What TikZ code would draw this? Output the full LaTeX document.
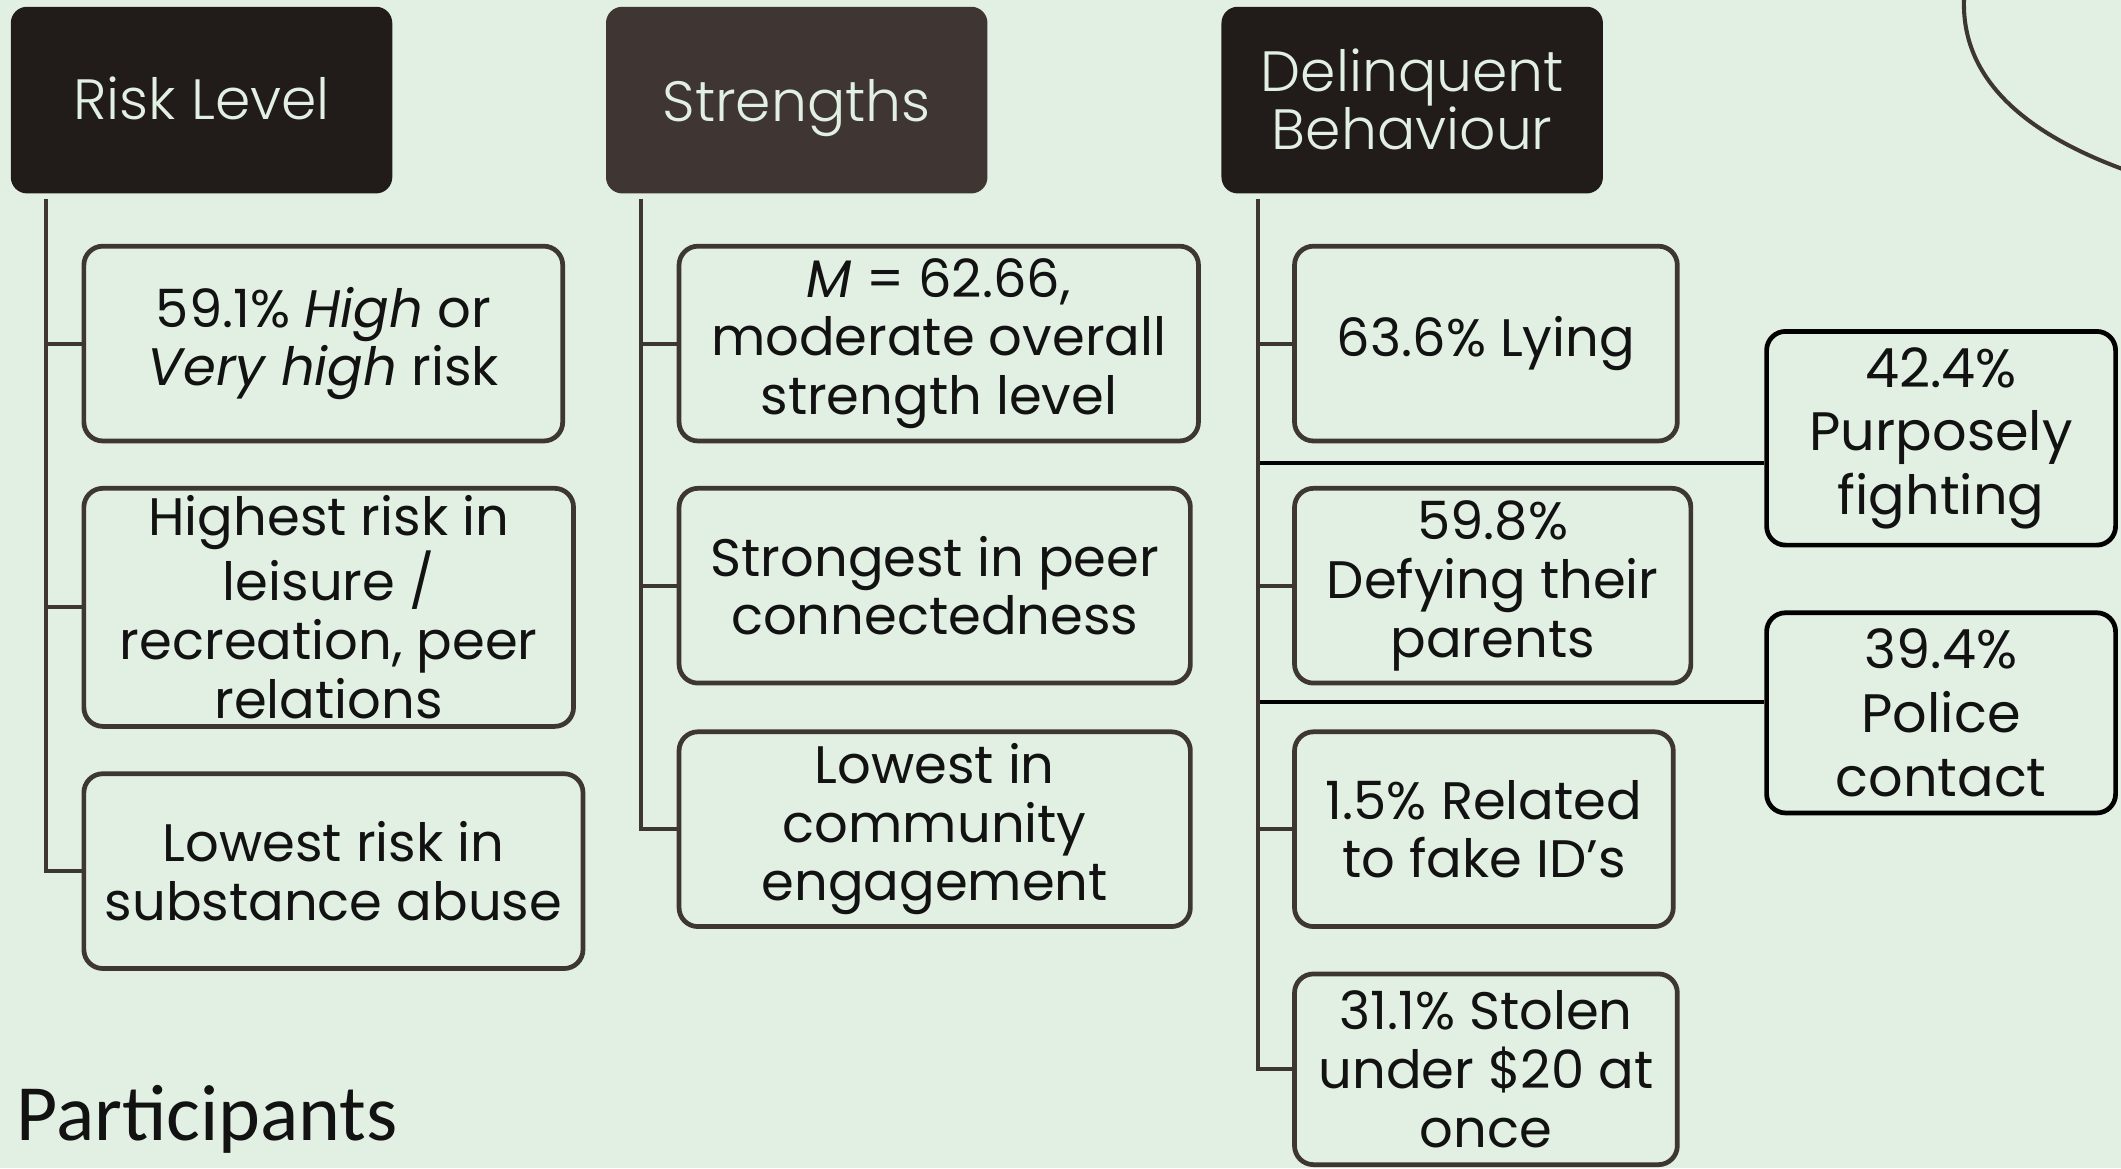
\documentclass[tikz,border=0pt]{standalone}
\usepackage{fontspec}
\setmainfont{Poppins}
\newfontfamily\hlight{Poppins Light}
\newfontfamily\calib{Carlito}
\definecolor{bg}{RGB}{226,240,227}
\definecolor{hdark}{RGB}{33,27,26}
\definecolor{hmid}{RGB}{63,54,51}
\definecolor{edge}{RGB}{62,54,51}
\definecolor{htext}{RGB}{226,240,227}
\definecolor{ink}{RGB}{18,18,18}
\begin{document}
\begin{tikzpicture}[x=1pt,y=-1pt,
  hdr/.style={rounded corners=12pt, minimum width=282pt, minimum height=138pt, text=htext, align=center, font=\hlight\fontsize{42}{43}\selectfont, inner sep=0pt},
  leaf/.style={draw=edge, line width=3.5pt, rounded corners=14pt, fill=bg, align=center, font=\fontsize{39}{43.5}\selectfont, inner sep=0pt, text=ink},
  side/.style={leaf, draw=black, font=\fontsize{40}{47}\selectfont},
  wire/.style={draw=edge, line width=3pt},
  bwire/.style={draw=black, line width=3pt}]
\useasboundingbox[fill=bg] (0,0) rectangle (1568,863.5);

% headers
\node[hdr, fill=hdark] (h1) at (149,74) {\raisebox{3pt}{Risk Level}};
\node[hdr, fill=hmid, text depth=0pt] (h2) at (589,74) {\raisebox{-1pt}{Strengths}};
\node[hdr, fill=hdark] (h3) at (1044,74) {\raisebox{1pt}{Delinquent}\\\raisebox{1pt}{Behaviour}};

% column 1
\node[leaf, minimum width=354pt, minimum height=144pt] (a1) at (239,254) {\raisebox{-3pt}{59.1\% \textit{High} or}\\\raisebox{-3pt}{\textit{Very high} risk}};
\node[leaf, minimum width=362pt, minimum height=176pt] (a2) at (243,449) {Highest risk in\\leisure /\\recreation, peer\\relations};
\node[leaf, minimum width=369pt, minimum height=144pt] (a3) at (246.5,644) {Lowest risk in\\substance abuse};

% column 2
\node[leaf, minimum width=384pt, minimum height=144pt] (b1) at (694,254) {\textit{M} = 62.66,\\moderate overall\\strength level};
\node[leaf, minimum width=378pt, minimum height=144pt] (b2) at (691,433) {Strongest in peer\\connectedness};
\node[leaf, minimum width=378pt, minimum height=144pt] (b3) at (691,613) {Lowest in\\community\\engagement};

% column 3
\node[leaf, minimum width=283pt, minimum height=144pt] (c1) at (1098.5,254) {63.6\% Lying};
\node[leaf, minimum width=293pt, minimum height=144pt] (c2) at (1103.5,433) {59.8\%\\Defying their\\parents};
\node[leaf, minimum width=280pt, minimum height=144pt] (c3) at (1097,613) {1.5\% Related\\to fake ID’s};
\node[leaf, minimum width=283pt, minimum height=141pt] (c4) at (1098.5,790.5) {31.1\% Stolen\\under \$20 at\\once};

% side boxes
\node[side, minimum width=258pt, minimum height=158pt] (s1) at (1435,324) {42.4\%\\Purposely\\fighting};
\node[side, minimum width=258pt, minimum height=148pt] (s2) at (1435,527) {39.4\%\\Police\\contact};

% connectors
\coordinate (v1) at (34,147);
\coordinate (v2) at (474,147);
\coordinate (v3) at (930,147);
\draw[wire] (v1) |- (a3.west);
\draw[wire] (v1 |- a1.west) -- (a1.west);
\draw[wire] (v1 |- a2.west) -- (a2.west);
\draw[wire] (v2) |- (b3.west);
\draw[wire] (v2 |- b1.west) -- (b1.west);
\draw[wire] (v2 |- b2.west) -- (b2.west);
\draw[wire] (v3) |- (c4.west);
\draw[wire] (v3 |- c1.west) -- (c1.west);
\draw[wire] (v3 |- c2.west) -- (c2.west);
\draw[wire] (v3 |- c3.west) -- (c3.west);
\coordinate (j1) at (931.5,342);
\coordinate (j2) at (931.5,519);
\draw[bwire] (j1) -- (j1 -| s1.west);
\draw[bwire] (j2) -- (j2 -| s2.west);

% decorative curve
\draw[edge, line width=3pt] (1452,-2) .. controls (1449,60) and (1500,100) .. (1572,126);

% title
\node[anchor=base west, font=\calib\fontsize{59}{60}\selectfont, text=ink, inner sep=0pt] (title) at (12,843) {Participants};
\end{tikzpicture}
\end{document}
